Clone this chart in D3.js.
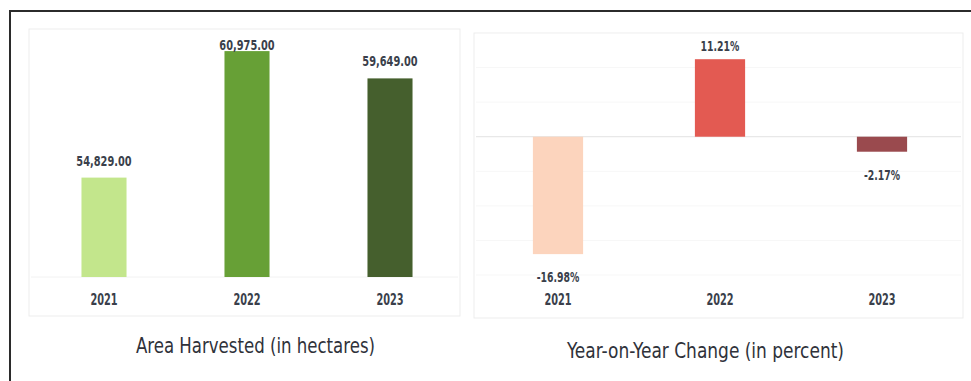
<!DOCTYPE html>
<html>
<head>
<meta charset="utf-8">
<script src="https://cdn.jsdelivr.net/npm/d3@7"></script>
<style>
  html, body { margin: 0; padding: 0; background: #fff; }
  svg { display: block; }
  .lbl { font-family: "Liberation Sans Narrow", "DejaVu Sans Condensed", "Arial Narrow", sans-serif; font-weight: bold; fill: #3a3f4b; }
  .ttl { font-family: "Liberation Sans Narrow", "DejaVu Sans Condensed", "Arial Narrow", sans-serif; fill: #2f323a; }
</style>
</head>
<body>
<svg id="chart" width="971" height="381"></svg>
<script>
// Harvest data by year
const years = ["2021", "2022", "2023"];
const areaHarvested = [54829, 60975, 59649];
const yoyChange = [-16.98, 11.21, -2.17];
const areaColors = ["#c3e68c", "#67a036", "#455f2d"];
const yoyColors = ["#fcd4bd", "#e35a52", "#9a4a4e"];
const yoyTicks = [-20, -15, -10, -5, 0, 5, 10, 15];

const svg = d3.select("#chart");

// Squeeze a text element horizontally to imitate a condensed face
function condense(sel, k) {
  sel.each(function () {
    const w = this.getComputedTextLength();
    this.setAttribute("textLength", (w * k).toFixed(1));
    this.setAttribute("lengthAdjust", "spacingAndGlyphs");
  });
}

// Outer frame (left and top edges)
svg.append("path")
  .attr("d", "M10,381 V11 H971")
  .attr("fill", "none")
  .attr("stroke", "#2b2b2b")
  .attr("stroke-width", 2);

// ---------- Left panel: area harvested ----------
const left = svg.append("g");
left.append("rect")
  .attr("x", 29).attr("y", 29).attr("width", 431).attr("height", 287)
  .attr("fill", "none").attr("stroke", "#ededed").attr("stroke-width", 1);

const xA = d3.scaleBand().domain(years).range([32.5, 461.5])
  .paddingInner(0.685).paddingOuter(0.3425);
const yA = d3.scaleLinear().domain([50000, 62000]).range([277, 30]);

left.append("line")
  .attr("x1", 31).attr("x2", 458)
  .attr("y1", yA(50000)).attr("y2", yA(50000))
  .attr("stroke", "#f2f2f2");

left.selectAll("rect.bar").data(years).join("rect")
  .attr("class", "bar")
  .attr("x", d => xA(d))
  .attr("width", xA.bandwidth())
  .attr("y", (d, i) => yA(areaHarvested[i]))
  .attr("height", (d, i) => yA(50000) - yA(areaHarvested[i]))
  .attr("fill", (d, i) => areaColors[i]);

const fmtArea = d3.format(",.2f");
left.selectAll("text.val").data(years).join("text")
  .attr("class", "lbl val")
  .attr("x", d => xA(d) + xA.bandwidth() / 2)
  .attr("y", (d, i) => Math.max(50, yA(areaHarvested[i]) - 12))
  .attr("text-anchor", "middle")
  .attr("font-size", 14)
  .text((d, i) => fmtArea(areaHarvested[i]))
  .call(condense, 0.78);

left.selectAll("text.cat").data(years).join("text")
  .attr("class", "lbl cat")
  .attr("x", d => xA(d) + xA.bandwidth() / 2)
  .attr("y", 305)
  .attr("text-anchor", "middle")
  .attr("font-size", 16)
  .text(d => d)
  .call(condense, 0.68);

left.append("text")
  .attr("class", "ttl")
  .attr("x", 255.5).attr("y", 353)
  .attr("text-anchor", "middle")
  .attr("font-size", 22)
  .attr("textLength", 239).attr("lengthAdjust", "spacingAndGlyphs")
  .text("Area Harvested (in hectares)");

// ---------- Right panel: year-on-year change ----------
const right = svg.append("g");
right.append("rect")
  .attr("x", 474).attr("y", 33).attr("width", 489).attr("height", 285)
  .attr("fill", "none").attr("stroke", "#ededed").attr("stroke-width", 1);

const xY = d3.scaleBand().domain(years).range([477, 963])
  .paddingInner(0.69).paddingOuter(0.345);
const yY = d3.scaleLinear().domain([-20, 15]).range([275, 33]);

right.selectAll("line.grid").data(yoyTicks).join("line")
  .attr("class", "grid")
  .attr("x1", 476).attr("x2", 961)
  .attr("y1", d => yY(d)).attr("y2", d => yY(d))
  .attr("stroke", d => d === 0 ? "#e2e2e2" : "#f7f7f7")
  .attr("stroke-width", 1);

right.selectAll("rect.bar").data(years).join("rect")
  .attr("class", "bar")
  .attr("x", d => xY(d))
  .attr("width", xY.bandwidth())
  .attr("y", (d, i) => yY(Math.max(0, yoyChange[i])))
  .attr("height", (d, i) => Math.abs(yY(yoyChange[i]) - yY(0)))
  .attr("fill", (d, i) => yoyColors[i]);

right.selectAll("text.val").data(years).join("text")
  .attr("class", "lbl val")
  .attr("x", d => xY(d) + xY.bandwidth() / 2)
  .attr("y", (d, i) => yoyChange[i] >= 0 ? yY(yoyChange[i]) - 8 : yY(yoyChange[i]) + 28)
  .attr("text-anchor", "middle")
  .attr("font-size", 14)
  .text((d, i) => yoyChange[i].toFixed(2) + "%")
  .call(condense, 0.74);

right.selectAll("text.cat").data(years).join("text")
  .attr("class", "lbl cat")
  .attr("x", d => xY(d) + xY.bandwidth() / 2)
  .attr("y", 305)
  .attr("text-anchor", "middle")
  .attr("font-size", 16)
  .text(d => d)
  .call(condense, 0.68);

right.append("text")
  .attr("class", "ttl")
  .attr("x", 705.5).attr("y", 358)
  .attr("text-anchor", "middle")
  .attr("font-size", 22)
  .attr("textLength", 277).attr("lengthAdjust", "spacingAndGlyphs")
  .text("Year-on-Year Change (in percent)");
</script>
</body>
</html>
